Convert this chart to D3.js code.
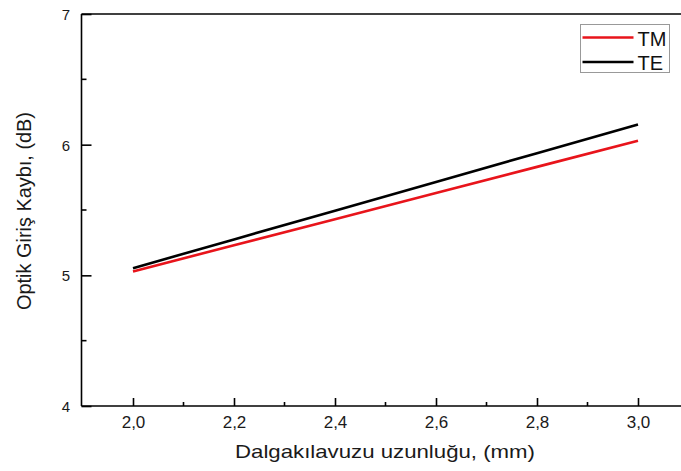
<!DOCTYPE html>
<html>
<head>
<meta charset="utf-8">
<script src="https://cdn.jsdelivr.net/npm/d3@7"></script>
<style>
  html, body { margin: 0; padding: 0; background: #fff; }
  svg { display: block; font-family: "Liberation Sans", Arial, sans-serif; }
</style>
</head>
<body>
<svg id="chart" width="681" height="471"></svg>
<script>
// Waveguide length (mm) and optical insertion loss (dB) for both polarisations
const lengths = [2.0, 2.2, 2.4, 2.6, 2.8, 3.0];
const lossTM = [5.03, 5.23, 5.43, 5.63, 5.83, 6.03];
const lossTE = [5.055, 5.275, 5.495, 5.715, 5.935, 6.155];
const seriesNames = ["TM", "TE"];
const seriesColors = ["#e8141b", "#000000"];
const xTicks = [2.0, 2.2, 2.4, 2.6, 2.8, 3.0];
const xMinor = [2.1, 2.3, 2.5, 2.7, 2.9];
const yTicks = [4, 5, 6, 7];
const yMinor = [4.5, 5.5, 6.5];

const svg = d3.select("#chart");
const axisX = 81.5, plotTop = 14, plotBottom = 406;
const x = d3.scaleLinear().domain([1.9, 3.1]).range([82.5, 688.5]);
const y = d3.scaleLinear().domain([4, 7]).range([plotBottom, plotTop]);
const fmt = d => d.toFixed(1).replace(".", ",");
const textColor = "#1a1a1a";

// top border
svg.append("line").attr("x1", axisX).attr("x2", 681).attr("y1", plotTop).attr("y2", plotTop)
  .attr("stroke", "#000").attr("stroke-width", 1.6);

// x axis
const gx = svg.append("g").attr("transform", `translate(0,${plotBottom})`);
gx.call(d3.axisBottom(x).tickValues(xTicks).tickSize(-8).tickSizeOuter(0).tickFormat(fmt));
gx.select(".domain").remove();
gx.append("line").attr("x1", axisX).attr("x2", 681).attr("stroke", "#000").attr("stroke-width", 1.6);
gx.selectAll(".tick line").attr("stroke", "#000").attr("stroke-width", 1.6);
gx.selectAll(".tick text").attr("font-size", 17).attr("fill", textColor)
  .attr("font-family", "Liberation Sans, Arial, sans-serif")
  .attr("y", 22).attr("dy", 0);
gx.selectAll(".minor").data(xMinor).enter().append("line")
  .attr("x1", d => x(d)).attr("x2", d => x(d)).attr("y1", 0).attr("y2", -4)
  .attr("stroke", "#000").attr("stroke-width", 1.6);

// y axis
const gy = svg.append("g").attr("transform", `translate(${axisX},0)`);
gy.call(d3.axisLeft(y).tickValues(yTicks).tickSize(-10).tickSizeOuter(0).tickFormat(d3.format("d")));
gy.select(".domain").remove();
gy.append("line").attr("y1", plotTop).attr("y2", plotBottom).attr("stroke", "#000").attr("stroke-width", 1.6);
gy.selectAll(".tick line").attr("stroke", "#000").attr("stroke-width", 1.6);
gy.selectAll(".tick text").attr("font-size", 15).attr("fill", textColor)
  .attr("font-family", "Liberation Sans, Arial, sans-serif")
  .attr("text-anchor", "middle").attr("x", -15.5).attr("dy", "0.36em");
gy.selectAll(".minor").data(yMinor).enter().append("line")
  .attr("y1", d => y(d)).attr("y2", d => y(d)).attr("x1", 0).attr("x2", 5)
  .attr("stroke", "#000").attr("stroke-width", 1.6);

// axis titles
svg.append("text").attr("x", 385).attr("y", 458).attr("text-anchor", "middle")
  .attr("font-size", 19).attr("fill", textColor)
  .attr("textLength", 300).attr("lengthAdjust", "spacingAndGlyphs")
  .text("Dalgakılavuzu uzunluğu, (mm)");
svg.append("text").attr("transform", "translate(31,211) rotate(-90)").attr("text-anchor", "middle")
  .attr("font-size", 20).attr("fill", textColor)
  .attr("textLength", 198).attr("lengthAdjust", "spacingAndGlyphs")
  .text("Optik Giriş Kaybı, (dB)");

// series lines
const line = d3.line().x(d => x(d[0])).y(d => y(d[1]));
[lossTM, lossTE].forEach((vals, i) => {
  svg.append("path").datum(lengths.map((l, j) => [l, vals[j]]))
    .attr("d", line).attr("fill", "none")
    .attr("stroke", seriesColors[i]).attr("stroke-width", 2.6);
});

// legend
const lg = svg.append("g").attr("transform", "translate(580.5,24.5)");
lg.append("rect").attr("width", 89).attr("height", 48).attr("fill", "#fff")
  .attr("stroke", "#999").attr("stroke-width", 1);
seriesNames.forEach((name, i) => {
  const yy = 13 + i * 24.5;
  lg.append("line").attr("x1", 2).attr("x2", 53).attr("y1", yy).attr("y2", yy)
    .attr("stroke", seriesColors[i]).attr("stroke-width", 2.6);
  lg.append("text").attr("x", 57).attr("y", yy + 8).attr("font-size", 20)
    .attr("fill", "#111").text(name);
});
</script>
</body>
</html>
